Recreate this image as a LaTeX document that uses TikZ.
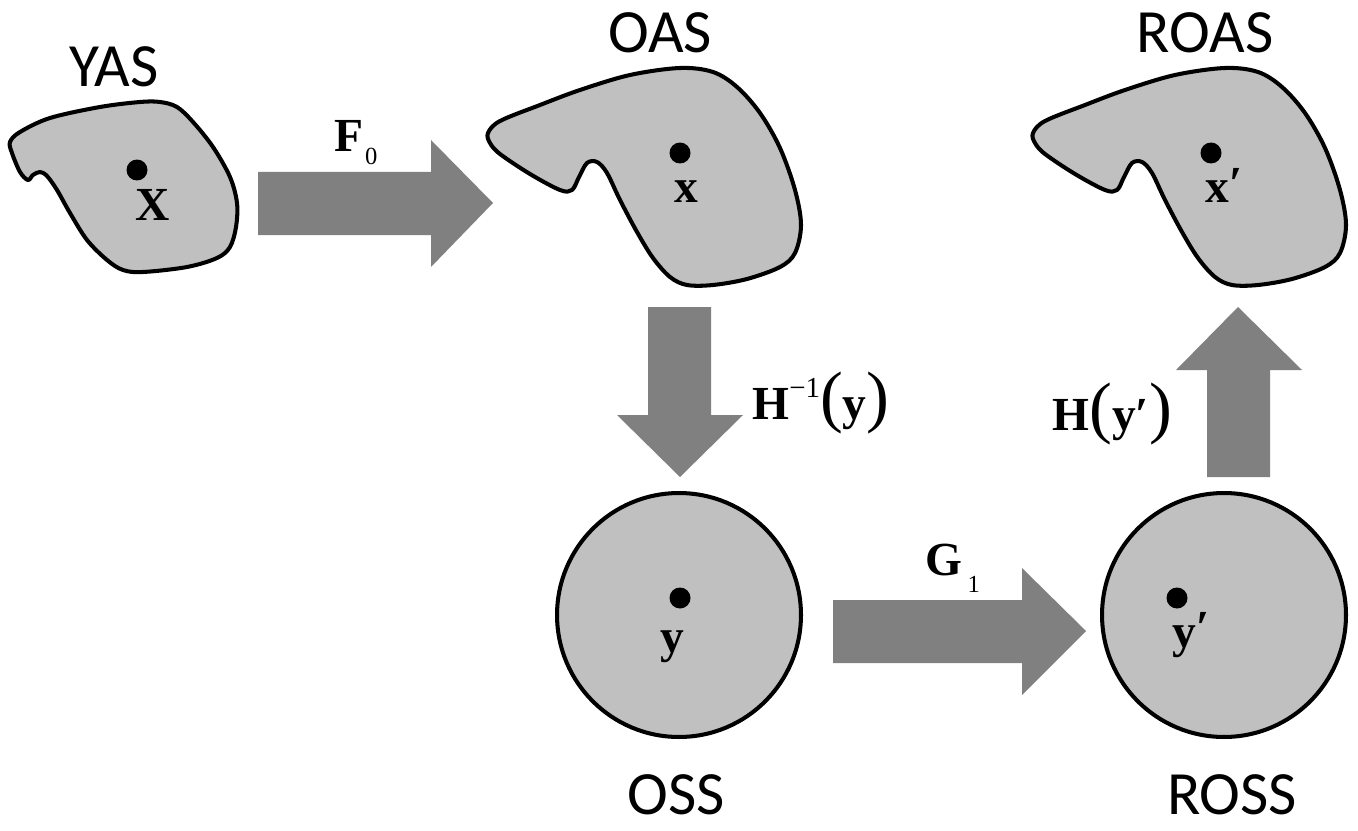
\documentclass[tikz,border=0pt]{standalone}
\usepackage{fontspec}
\newfontfamily\sanslbl{Carlito}
\newfontfamily\serlbl{Liberation Serif}
\definecolor{regiongray}{HTML}{C0C0C0}
\definecolor{arrowgray}{HTML}{808080}
\newcommand{\parenfont}{\mdseries\fontsize{39}{40}\selectfont}
\newcommand{\mainfont}{\bfseries\fontsize{27}{30}\selectfont}
\newcommand{\indexfont}{\mdseries\fontsize{14}{16}\selectfont}
\begin{document}
\begin{tikzpicture}[x=0.02cm,y=-0.02cm,
  region/.style={draw=black, line width=2.3pt, fill=regiongray, line join=round},
  bigarrow/.style={fill=arrowgray},
  dot/.style={circle, fill=black, minimum size=0.42cm, inner sep=0pt},
  setname/.style={font=\sanslbl\fontsize{35}{40}\selectfont, inner sep=0pt, anchor=base},
  maplbl/.style={font=\serlbl\bfseries\fontsize{27}{30}\selectfont, inner sep=0pt, anchor=base west},
  ptlbl/.style={font=\serlbl\bfseries\fontsize{27}{30}\selectfont, inner sep=0pt}]
\useasboundingbox (0,0) rectangle (1358,831);

% ---- regions ----
% YAS
\draw[region] plot[smooth cycle, tension=0.55] coordinates {
  (10,142) (20,132) (50,118) (100,107) (140,102) (160,102) (177,107)
  (193,122) (213,147) (230,177) (237,203) (236,227) (230,247) (217,258)
  (187,267) (143,272) (123,270) (107,260) (87,240) (70,213) (57,190)
  (47,176) (40,172) (33,175) (28,180) (20,172) (12,153)};
% OAS and ROAS share one outline
\foreach \dx in {0, 545}{
  \begin{scope}[xshift=\dx*0.02cm]
  \draw[region] plot[smooth cycle, tension=0.55] coordinates {
    (488,133) (500,121) (540,105) (580,90) (630,75) (680,68) (713,72)
    (737,87) (760,113) (780,148) (795,190) (801,225) (795,253) (780,267)
    (747,279) (713,285) (687,285) (670,277) (653,258) (637,232) (620,200)
    (607,173) (597,162) (587,163) (579,177) (572,190) (560,190) (530,174)
    (500,154) (490,143)};
  \end{scope}}
% OSS and ROSS
\node[circle, draw=black, line width=2.3pt, fill=regiongray, minimum size=4.88cm, inner sep=0pt] (oss) at (679,615) {};
\node[circle, draw=black, line width=2.3pt, fill=regiongray, minimum size=4.88cm, inner sep=0pt] (ross) at (1224,615) {};

% ---- points ----
\node[dot] (pX) at (137,170) {};
\node[dot] (px) at (680,153) {};
\node[dot] (pxp) at (1211,153) {};
\node[dot] (py) at (680,598) {};
\node[dot] (pyp) at (1177,598) {};
\node[ptlbl, anchor=base] (lX) at (153,220) {X};
\node[ptlbl, anchor=base] (lx) at (686,203) {x};
\node[ptlbl, anchor=base west] (lxp) at (1205,203) {x\raisebox{2pt}{′}};
\node[ptlbl, anchor=base] (ly) at (672,652) {y};
\node[ptlbl, anchor=base west] (lyp) at (1172,647) {y\raisebox{2pt}{′}};

% ---- block arrows ----
\fill[bigarrow] (258,172) -- (431,172) -- (431,140) -- (493,203) -- (431,267) -- (431,235) -- (258,235) -- cycle;
\fill[bigarrow] (833,600) -- (1022,600) -- (1022,568) -- (1086,631) -- (1022,695) -- (1022,663) -- (833,663) -- cycle;
\fill[bigarrow] (648,307) -- (711,307) -- (711,415) -- (743,415) -- (680,477) -- (617,415) -- (648,415) -- cycle;
\fill[bigarrow] (1207,477) -- (1270,477) -- (1270,370) -- (1302,370) -- (1238,307) -- (1176,370) -- (1207,370) -- cycle;

% ---- map labels ----
\node[maplbl] (F0) at (334,152) {F\kern1pt\raisebox{-7.4pt}{\indexfont 0}};
\node[maplbl] (G1) at (925,575) {G\kern3pt\raisebox{-9.7pt}{\indexfont 1}};
\node[maplbl] (Hinv) at (752,419) {H\raisebox{12.5pt}{\mdseries\fontsize{16.5}{18}\selectfont −1}{\parenfont(}{\mainfont y}{\parenfont)}};
\node[maplbl] (Hy) at (1052,430) {H{\parenfont(}{\mainfont y′}{\parenfont)}};

% ---- set names ----
\node[setname] (yas) at (114,87) {YAS};
\node[setname] (oasl) at (660,53) {OAS};
\node[setname] (roasl) at (1205,53) {ROAS};
\node[setname] (ossl) at (676,814) {OSS};
\node[setname] (rossl) at (1232,814) {ROSS};
\end{tikzpicture}
\end{document}
